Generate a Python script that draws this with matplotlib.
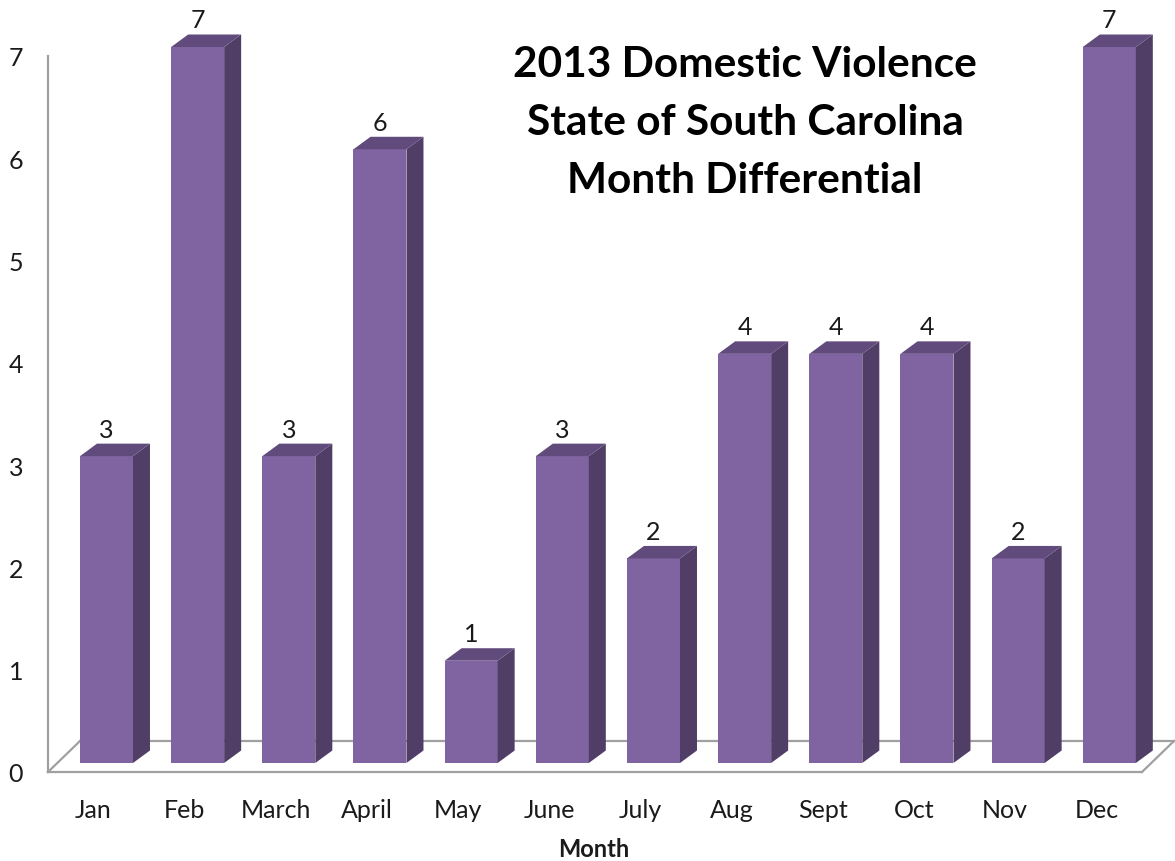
import matplotlib
matplotlib.use("Agg")
import matplotlib.pyplot as plt
from matplotlib.patches import Polygon
from matplotlib.lines import Line2D

months = ["Jan", "Feb", "March", "April", "May", "June", "July", "Aug", "Sept", "Oct", "Nov", "Dec"]
values = [3, 7, 3, 6, 1, 3, 2, 4, 4, 4, 2, 7]
yticks = [0, 1, 2, 3, 4, 5, 6, 7]
title_lines = ["2013 Domestic Violence", "State of South Carolina", "Month Differential"]
xlabel = "Month"

FRONT = "#8064A2"
SIDE = "#503E66"
TOP = "#614B7D"
GRID = "#A0A0A0"
FONT = "Lato"

W, H = 1175, 862
fig = plt.figure(figsize=(W / 100, H / 100), dpi=100)
ax = fig.add_axes([48 / W, 1 - 773 / H, (1142 - 48) / W, (773 - 57) / H])
ax.set_xlim(-0.5, len(months) - 0.5)
ax.set_ylim(0, 7)
for s in ax.spines.values():
    s.set_visible(False)

# depth geometry (in data units)
px_x = (1142 - 48) / len(months)
px_y = (773 - 57) / 7
sx, sy = 12.9 / px_x, 9 / px_y          # bar front-face offset into floor
bw = 53 / px_x                           # bar width
ddx, ddy = 17 / px_x, 12.5 / px_y        # bar depth
fdx, fdy = 32 / px_x, 31 / px_y          # floor depth

x0, x1 = -0.5, len(months) - 0.5
lw = 1.6
# floor
ax.add_line(Line2D([x0 + fdx, x1 + fdx], [fdy, fdy], color=GRID, lw=lw, zorder=1, clip_on=False))
ax.add_line(Line2D([x0, x0 + fdx], [0, fdy], color=GRID, lw=lw, zorder=1, clip_on=False))
ax.add_line(Line2D([x1, x1 + fdx], [0, fdy], color=GRID, lw=lw, zorder=1, clip_on=False))
ax.add_line(Line2D([x0, x1], [0, 0], color=GRID, lw=lw, zorder=1, clip_on=False))
# vertical axis
ax.add_line(Line2D([x0, x0], [0, 7], color=GRID, lw=lw, zorder=1, clip_on=False))

for i, v in enumerate(values):
    l = i - bw / 2 + sx
    r = i + bw / 2 + sx
    b = sy
    t = v + sy
    ax.add_patch(Polygon([(l, b), (r, b), (r, t), (l, t)], closed=True, facecolor=FRONT,
                         edgecolor="none", zorder=3, clip_on=False))
    ax.add_patch(Polygon([(r, b), (r + ddx, b + ddy), (r + ddx, t + ddy), (r, t)], closed=True,
                         facecolor=SIDE, edgecolor="none", zorder=3, clip_on=False))
    ax.add_patch(Polygon([(l, t), (r, t), (r + ddx, t + ddy), (l + ddx, t + ddy)], closed=True,
                         facecolor=TOP, edgecolor="none", zorder=3, clip_on=False))
    ax.text(i + sx, t + ddy + 7 / px_y, str(v), ha="center", va="baseline",
            fontsize=18, family=FONT, color="#1a1a1a", zorder=4, clip_on=False)

ax.set_xticks(range(len(months)))
ax.set_xticklabels(months, fontsize=18, family=FONT, color="#1a1a1a")
ax.set_yticks(yticks)
ax.set_yticklabels([str(t) for t in yticks], fontsize=18, family=FONT, color="#1a1a1a")
ax.tick_params(axis="x", length=0, pad=19)
ax.tick_params(axis="y", length=0, pad=18)

fig.text(594 / W, 1 - 857 / H, xlabel, ha="center", va="baseline", fontsize=17,
         fontweight="bold", family=FONT, color="#1a1a1a")

for k, line in enumerate(title_lines):
    fig.text(745 / W, 1 - (77 + 58 * k) / H, line, ha="center", va="baseline",
             fontsize=30.5, fontweight="bold", family=FONT, color="black")

fig.savefig("out.png", dpi=100)
